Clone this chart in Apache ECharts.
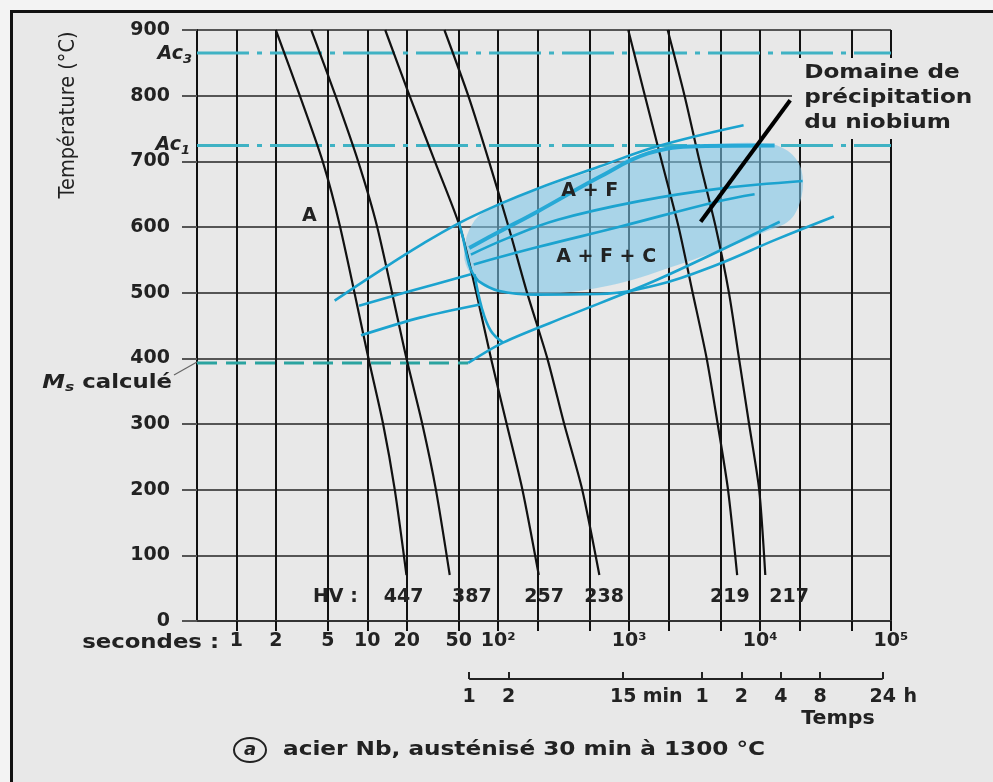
<!DOCTYPE html>
<html>
<head>
<meta charset="utf-8">
<script src="https://cdn.jsdelivr.net/npm/echarts@6.0.0/dist/echarts.min.js"></script>
<style>
html,body{margin:0;padding:0;background:#f3f3f3;overflow:hidden;}
#chart{width:993px;height:782px;}
</style>
</head>
<body>
<div id="chart"></div>
<script>
// ---------------- DATA (time in seconds, temperature in °C) ----------------
const secondTicks = [1,2,5,10,20,50,100,200,500,1000,2000,5000,10000,20000,50000,100000];
const secondLabelValues = [1,2,5,10,20,50,100,1000,10000,100000];
const secondLabelTexts = ['1','2','5','10','20','50','10²','10³','10⁴','10⁵'];
const clockTicks = [60,120,900,3600,7200,14400,28800,86400];
const clockLabels = ['1','2','15 min','1','2','4','8','24 h'];

// cooling curves (black), labelled by final hardness HV
const cool447 = [[2.0,900],[3.05,800],[4.56,700],[6.2,600],[10.2,400],[13.2,300],[16.2,200],[19.9,70]];
const cool387 = [[3.73,900],[5.71,800],[8.51,700],[11.9,600],[19.9,400],[26.3,300],[33.4,200],[42.6,70]];
const cool257 = [[13.7,900],[21,800],[32.8,700],[51,600],[68,500],[88,400],[116,300],[153,200],[204,70]];
const cool238 = [[38.8,900],[59,800],[85,700],[120,600],[166,500],[237,400],[319,300],[438,200],[592,70]];
const cool219 = [[984,900],[1319,800],[1771,700],[2386,600],[3055,500],[3908,400],[4744,300],[5689,200],[6683,70]];
const cool217 = [[1968,900],[2649,800],[3451,700],[4581,600],[5781,500],[6902,400],[8240,300],[9840,200],[10960,70]];

const hvNames = ['HV :','447','387','257','238','219','217'];
const hvTimes = [5.7,18.9,62.8,224,644,5875,16670];
const hvTemp = 37;

// transformation lines (blue)
const ferriteStart = [[5.63,488],[12.6,534],[25.3,572],[50.2,606],[100,634],[197,658],[592,692],[1652,723],[7480,755]];
const upperBand    = [[60,568],[100,592],[197,623],[592,676],[1390,712],[3334,723],[12910,724]];
const fan1         = [[61.8,558],[118,583],[285,611],[1169,639],[4742,658],[21130,670]];
const fan2         = [[64.9,543],[197,569],[830,600],[4742,639],[9080,650]];
const lowerEdge    = [[70.3,518],[100,503],[197,497],[592,498],[1652,512],[4742,543],[12910,580],[36640,616]];
const noseLine     = [[50.2,606],[53.6,585],[57.3,558],[61.8,535],[70.3,518]];
const noseDown     = [[65.9,528],[74.8,477],[87.7,442],[108.8,424]];
const bainiteLine  = [[59,393],[108.8,424],[344,465],[1652,520],[14130,608]];
const shortLine1   = [[8.65,480],[21,502],[61.8,528]];
const shortLine2   = [[8.95,435],[25.3,462],[72.6,482]];

// niobium precipitation domain (outline)
const precipZone = [[55.4,565],[58.1,589],[70.3,616],[100,633],[197,656],[592,689],[1390,713],[3334,724],[11350,727],[16980,713],[20750,686],[20750,647],[16980,611],[10760,592],[6577,574],[2343,542],[830,514],[285,499],[118,499],[78.7,509],[61.8,528],[55.4,549]];
const precipPointer = [[3516,608],[16980,793]];

// critical temperatures
const tAc3 = 865, tAc1 = 724, tMs = 393;
const tMin = 0.5, tMax = 100000;
const msEndTime = 59;

// zone labels
const zoneNames = ['A','A + F','A + F + C'];
const zoneTimes = [3.6,500,667];
const zoneTemps = [616,654,554];

// ---------------- CHART ----------------
const FONT = 'DejaVu Sans';
const TXT = '#222';
const BLUE = '#1ba3cf';

function curve(data, color, width, extra) {
  return Object.assign({
    type:'line', data: data, xAxisIndex:0, yAxisIndex:0,
    showSymbol:false, symbol:'none', smooth:0.25, silent:true, z:3,
    lineStyle:{color:color, width:width}
  }, extra || {});
}
function blackCurve(data) {
  return curve(data, '#111', 2.2, {smooth:0.25});
}
function nearIdx(arr, v){
  let best=0, bd=1e9;
  arr.forEach((a,i)=>{const d=Math.abs(Math.log10(a)-Math.log10(v)); if(d<bd){bd=d;best=i;}});
  return best;
}
function textSeries(names, times, temps) {
  return {
    type:'scatter', xAxisIndex:0, yAxisIndex:0, z:7, silent:true,
    symbolSize:1, itemStyle:{color:'rgba(0,0,0,0)', opacity:1},
    data: names.map((n,i)=>({name:n, value:[times[i], Array.isArray(temps)?temps[i]:temps]})),
    label:{show:true, position:'inside', formatter:p=>p.name, fontFamily:FONT, fontWeight:'bold', fontSize:19, color:TXT, opacity:1, textBorderWidth:0}
  };
}

const chart = echarts.init(document.getElementById('chart'));
const series = [
  {
    type:'custom', xAxisIndex:0, yAxisIndex:0, z:1, silent:true,
    data: precipZone, encode:{x:0,y:1},
    renderItem:function(params, api){
      if (params.dataIndex !== 0) return {type:'group', children:[]};
      const pts = precipZone.map(p => api.coord(p));
      return {type:'polygon', shape:{points:pts, smooth:0.35}, style:{fill:'#7cc6e8', opacity:0.58}};
    }
  },
  curve([[tMin,tAc3],[tMax,tAc3]], '#3fb2c4', 3, {smooth:false, lineStyle:{color:'#3fb2c4', width:3, type:[52,8,5,8]}}),
  curve([[tMin,tAc1],[tMax,tAc1]], '#3fb2c4', 3, {smooth:false, lineStyle:{color:'#3fb2c4', width:3, type:[52,8,5,8]}}),
  curve([[tMin,tMs],[msEndTime,tMs]], '#2aa3a0', 3, {smooth:false, lineStyle:{color:'#2aa3a0', width:3, type:[20,9]}}),
  blackCurve(cool447), blackCurve(cool387), blackCurve(cool257),
  blackCurve(cool238), blackCurve(cool219), blackCurve(cool217),
  curve(ferriteStart, BLUE, 2.6, {smooth:0.4, z:4}),
  curve(upperBand, '#27a9d6', 4, {smooth:0.4, z:4}),
  curve(fan1, BLUE, 2.6, {smooth:0.4, z:4}),
  curve(fan2, BLUE, 2.6, {smooth:0.4, z:4}),
  curve(lowerEdge, BLUE, 2.6, {smooth:0.4, z:4}),
  curve(noseLine, BLUE, 2.6, {smooth:0.4, z:4}),
  curve(noseDown, BLUE, 2.6, {smooth:0.4, z:4}),
  curve(bainiteLine, BLUE, 2.6, {smooth:0.3, z:4}),
  curve(shortLine1, BLUE, 2.6, {smooth:0.3, z:4}),
  curve(shortLine2, BLUE, 2.6, {smooth:0.3, z:4}),
  curve(precipPointer, '#000', 4, {smooth:false, z:6}),
  textSeries(hvNames, hvTimes, hvTemp),
  textSeries(zoneNames, zoneTimes, zoneTemps),
  {
    type:'line', xAxisIndex:1, yAxisIndex:1, silent:true, showSymbol:false, symbol:'none',
    data:[[clockTicks[0],0],[clockTicks[clockTicks.length-1],0]],
    lineStyle:{color:'#222', width:2}
  }
];

const option = {
  animation:false,
  backgroundColor:'transparent',
  grid:[
    {left:197, top:30, width:694, height:591},
    {left:197, top:673, width:694, height:6}
  ],
  xAxis:[
    {
      type:'log', gridIndex:0, min:tMin, max:tMax,
      axisLine:{show:true, onZero:false, lineStyle:{color:'#333', width:2}},
      axisTick:{show:true, customValues:secondTicks, length:10, lineStyle:{color:'#111', width:2}},
      splitLine:{show:true, lineStyle:{color:'#111', width:2}},
      axisLabel:{customValues:secondLabelValues, margin:11, fontFamily:FONT, fontWeight:'bold', fontSize:19, color:TXT,
        formatter:v=>secondLabelTexts[nearIdx(secondLabelValues,v)]}
    },
    {
      type:'log', gridIndex:1, min:tMin, max:tMax, position:'bottom',
      axisLine:{show:false},
      splitLine:{show:false},
      axisTick:{show:true, inside:true, customValues:clockTicks, length:7, lineStyle:{color:'#222', width:2}},
      axisLabel:{customValues:clockTicks, margin:9, fontFamily:FONT, fontWeight:'bold', fontSize:19, color:TXT,
        formatter:v=>{
          const s = clockLabels[nearIdx(clockTicks,v)];
          const parts = s.split(' ');
          if (parts.length === 1) return '{n|'+s+'}';
          const u = parts[1]==='min' ? 'um' : 'uh';
          const p = parts[1]==='min' ? 'pm' : 'ph';
          return '{'+p+'|}{n|'+parts[0]+'}{'+u+'| '+parts[1]+'}';
        },
        rich:{
          n:{fontFamily:FONT, fontWeight:'bold', fontSize:19, color:TXT},
          um:{fontFamily:FONT, fontWeight:'bold', fontSize:19, color:TXT, width:46, align:'left'},
          uh:{fontFamily:FONT, fontWeight:'bold', fontSize:19, color:TXT, width:22, align:'left'},
          pm:{width:46}, ph:{width:22}
        }
      }
    }
  ],
  yAxis:[
    {
      type:'value', gridIndex:0, min:0, max:900, interval:100,
      axisLine:{show:true, lineStyle:{color:'#111', width:2}},
      axisTick:{show:true, length:15, lineStyle:{color:'#555', width:2}},
      splitLine:{show:true, lineStyle:{color:'#555', width:2}},
      axisLabel:{margin:27, fontFamily:FONT, fontWeight:'bold', fontSize:19, color:TXT}
    },
    {type:'value', gridIndex:1, min:0, max:1, show:false}
  ],
  graphic:[
    {type:'rect', z:-10, silent:true, shape:{x:11.5, y:11.5, width:1100, height:900}, style:{fill:'#e8e8e8', stroke:'#111', lineWidth:3}},
    {type:'text', z:10, silent:true, x:68, y:115, rotation:Math.PI/2, scaleX:0.88,
      style:{text:'Température (°C)', fontFamily:FONT, fontSize:22, fill:TXT, align:'center', verticalAlign:'middle'}},
    {type:'text', z:10, silent:true, x:192, y:54,
      style:{text:'{a|Ac}{s|3}', align:'right', verticalAlign:'middle',
        rich:{a:{fontFamily:FONT, fontStyle:'italic', fontWeight:'bold', fontSize:19, fill:TXT},
              s:{fontFamily:FONT, fontStyle:'italic', fontWeight:'bold', fontSize:13, fill:TXT, padding:[12,0,0,0]}}}},
    {type:'text', z:10, silent:true, x:190, y:145,
      style:{text:'{a|Ac}{s|1}', align:'right', verticalAlign:'middle',
        rich:{a:{fontFamily:FONT, fontStyle:'italic', fontWeight:'bold', fontSize:19, fill:TXT},
              s:{fontFamily:FONT, fontStyle:'italic', fontWeight:'bold', fontSize:13, fill:TXT, padding:[12,0,0,0]}}}},
    {type:'text', z:10, silent:true, x:172, y:383, scaleX:1.2,
      style:{text:'{m|M}{s|s}{t| calculé}', align:'right', verticalAlign:'middle',
        rich:{m:{fontFamily:FONT, fontStyle:'italic', fontWeight:'bold', fontSize:19, fill:TXT},
              s:{fontFamily:FONT, fontStyle:'italic', fontWeight:'bold', fontSize:13, fill:TXT, padding:[10,0,0,0]},
              t:{fontFamily:FONT, fontWeight:'bold', fontSize:19, fill:TXT}}}},
    {type:'line', z:10, silent:true, shape:{x1:174, y1:375, x2:197, y2:362}, style:{stroke:'#666', lineWidth:1.2}},
    {type:'text', z:10, silent:true, x:219, y:643, scaleX:1.2,
      style:{text:'secondes :', fontFamily:FONT, fontWeight:'bold', fontSize:19, fill:TXT, align:'right', verticalAlign:'middle'}},
    {type:'text', z:5, silent:true, x:792, y:58, scaleX:1.22,
      style:{text:'Domaine de\nprécipitation\ndu niobium', fontFamily:FONT, fontWeight:'bold', fontSize:19, lineHeight:25,
        fill:TXT, backgroundColor:'#e8e8e8', padding:[3,12,3,10], align:'left', verticalAlign:'top'}},
    {type:'text', z:10, silent:true, x:838, y:719, scaleX:1.08,
      style:{text:'Temps', fontFamily:FONT, fontWeight:'bold', fontSize:19, fill:TXT, align:'center', verticalAlign:'middle'}},
    {type:'ellipse', z:10, silent:true, shape:{cx:250, cy:750, rx:16, ry:12}, style:{fill:'none', stroke:TXT, lineWidth:2}},
    {type:'text', z:10, silent:true, x:250, y:750,
      style:{text:'a', fontFamily:FONT, fontStyle:'italic', fontWeight:'bold', fontSize:18, fill:TXT, align:'center', verticalAlign:'middle'}},
    {type:'text', z:10, silent:true, x:283, y:750, scaleX:1.22,
      style:{text:'acier Nb, austénisé 30 min à 1300 °C', fontFamily:FONT, fontWeight:'bold', fontSize:19, fill:TXT, align:'left', verticalAlign:'middle'}}
  ],
  series: series
};
chart.setOption(option);
</script>
</body>
</html>
